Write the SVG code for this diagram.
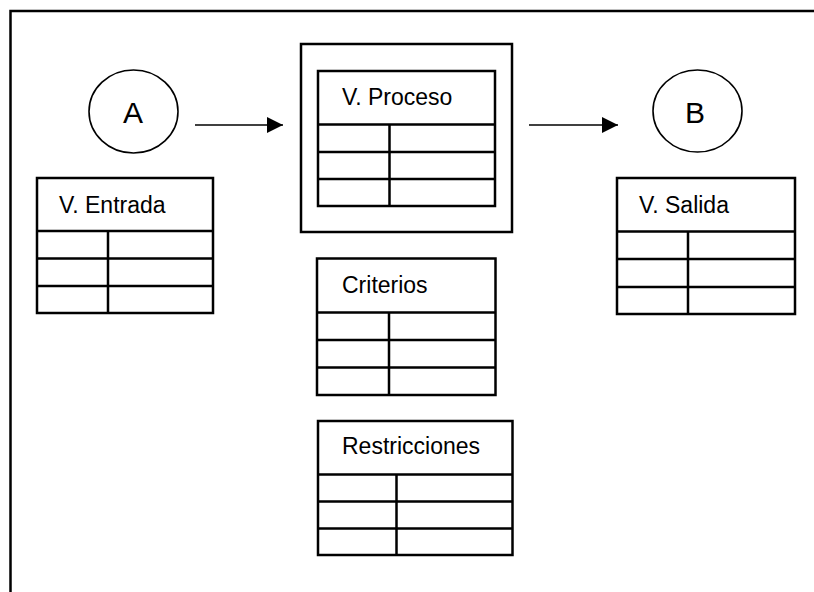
<svg xmlns="http://www.w3.org/2000/svg" width="814" height="592" viewBox="0 0 814 592">
<style>
.t{fill:none;stroke:#000;stroke-width:2.5}
.c{fill:#fff;stroke:#000;stroke-width:1.6}
.l{fill:none;stroke:#000;stroke-width:1.6}
text{font-family:"Liberation Sans",Arial,sans-serif;fill:#000}
.h{font-size:23px}
.big{font-size:30px;text-anchor:middle}
</style>
<defs>
<marker id="ah" markerWidth="16" markerHeight="16" refX="16" refY="8" orient="auto" markerUnits="userSpaceOnUse">
<path d="M0,0 L16,8 L0,16 Z" fill="#000"/>
</marker>
</defs>
<rect width="814" height="592" fill="#fff"/>
<path d="M10.5,592 V11 H814" fill="none" stroke="#000" stroke-width="2.5"/>
<g id="nodeA">
<ellipse class="c" cx="133.5" cy="111.5" rx="44.5" ry="41.5"/>
<text class="big" x="133" y="123">A</text>
</g>
<g id="nodeB">
<ellipse class="c" cx="697.5" cy="111" rx="44.5" ry="41"/>
<text class="big" x="695" y="123">B</text>
</g>
<g id="entrada">
<rect class="t" x="37" y="178" width="176" height="135"/>
<path class="t" d="M37,231 H213 M37,258.5 H213 M37,286 H213 M108,231 V313"/>
<text class="h" x="59" y="213">V. Entrada</text>
</g>
<g id="proceso">
<rect class="t" x="301" y="44" width="211" height="188"/>
<rect class="t" x="318" y="71" width="177" height="135"/>
<path class="t" d="M318,124.5 H495 M318,152 H495 M318,179 H495 M389.5,124.5 V206"/>
<text class="h" x="342" y="105">V. Proceso</text>
</g>
<g id="salida">
<rect class="t" x="617" y="178" width="178" height="136"/>
<path class="t" d="M617,231.5 H795 M617,259 H795 M617,287 H795 M688,231.5 V314"/>
<text class="h" x="639" y="213">V. Salida</text>
</g>
<g id="criterios">
<rect class="t" x="317" y="258.5" width="178.5" height="136.5"/>
<path class="t" d="M317,312.5 H495.5 M317,340 H495.5 M317,367.5 H495.5 M389,312.5 V395"/>
<text class="h" x="342" y="293">Criterios</text>
</g>
<g id="restricciones">
<rect class="t" x="318" y="421" width="194.5" height="134"/>
<path class="t" d="M318,474.5 H512.5 M318,501.5 H512.5 M318,528.5 H512.5 M396.5,474.5 V555"/>
<text class="h" x="342" y="454">Restricciones</text>
</g>
<g id="connectors">
<line class="l" x1="195" y1="125" x2="283" y2="125" marker-end="url(#ah)"/>
<line class="l" x1="529" y1="125" x2="618" y2="125" marker-end="url(#ah)"/>
</g>
</svg>
